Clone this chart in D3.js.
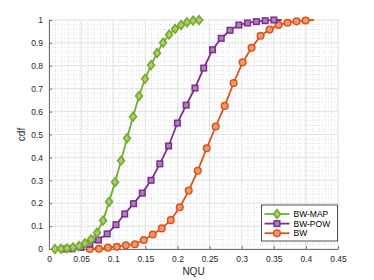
<!DOCTYPE html>
<html lang="en">
<head>
    <meta charset="UTF-8">
    <title>cdf of NQU</title>
    <style>
        body{
            margin: 0;
            background: #fff;
            font-family: "Liberation Sans", Helvetica, Arial, sans-serif;
        }
        svg{
            display: block;
        }
        .tick-label{
            font-size: 8.5px;
            fill: #262626;
        }
        .axis-title{
            font-size: 10px;
            fill: #262626;
        }
        .legend-label{
            font-size: 8.5px;
            fill: #000;
        }
    </style>
    <script src="https://d3js.org/d3.v7.min.js"></script>
</head>
<body>
    <script>
        // BW-MAP (green) - last point is where the line stops, no marker there
        var mapX = [0.0093, 0.0187, 0.0280, 0.0374, 0.0467, 0.0561, 0.0654, 0.0748, 0.0841, 0.0935,
                    0.1028, 0.1122, 0.1215, 0.1309, 0.1402, 0.1496, 0.1589, 0.1683, 0.1776, 0.1870,
                    0.1963, 0.2057, 0.2150, 0.2244, 0.2337, 0.2405];
        var mapY = [0, 0.001, 0.003, 0.007, 0.013, 0.025, 0.042, 0.071, 0.124, 0.206,
                    0.292, 0.386, 0.484, 0.578, 0.668, 0.743, 0.803, 0.856, 0.901, 0.936,
                    0.961, 0.978, 0.990, 0.997, 1.0, 1.0];
        // BW-POW (purple)
        var powX = [0.0223, 0.0360, 0.0496, 0.0633, 0.0770, 0.0906, 0.1043, 0.1179, 0.1316, 0.1453,
                    0.1589, 0.1726, 0.1863, 0.1999, 0.2136, 0.2273, 0.2409, 0.2546, 0.2682, 0.2819,
                    0.2956, 0.3092, 0.3229, 0.3366, 0.3502, 0.3622];
        var powY = [0, 0.001, 0.007, 0.021, 0.039, 0.066, 0.106, 0.153, 0.198, 0.244,
                    0.300, 0.372, 0.450, 0.550, 0.628, 0.703, 0.790, 0.870, 0.920, 0.955,
                    0.978, 0.987, 0.993, 0.997, 1.0, 1.0];
        // BW (orange)
        var bwX = [0.0637, 0.0777, 0.0917, 0.1057, 0.1197, 0.1337, 0.1476, 0.1616, 0.1756, 0.1896,
                   0.2036, 0.2176, 0.2316, 0.2456, 0.2596, 0.2736, 0.2875, 0.3015, 0.3155, 0.3295,
                   0.3435, 0.3575, 0.3715, 0.3855, 0.3995, 0.4124];
        var bwY = [0, 0.001, 0.006, 0.010, 0.016, 0.021, 0.039, 0.063, 0.090, 0.126,
                   0.182, 0.255, 0.342, 0.440, 0.535, 0.625, 0.725, 0.815, 0.879, 0.931,
                   0.958, 0.978, 0.988, 0.994, 0.998, 1.0];

        var seriesNames = ["BW-MAP", "BW-POW", "BW"];
        var xTicks = [0, 0.05, 0.1, 0.15, 0.2, 0.25, 0.3, 0.35, 0.4, 0.45];
        var xTickLabels = ["0", "0.05", "0.1", "0.15", "0.2", "0.25", "0.3", "0.35", "0.4", "0.45"];
        var yTicks = [0, 0.1, 0.2, 0.3, 0.4, 0.5, 0.6, 0.7, 0.8, 0.9, 1];
        var yTickLabels = ["0", "0.1", "0.2", "0.3", "0.4", "0.5", "0.6", "0.7", "0.8", "0.9", "1"];

        var width = 374, height = 280;
        var margin = {top: 20, right: 36, bottom: 31, left: 49};
        var innerW = width - margin.left - margin.right;
        var innerH = height - margin.top - margin.bottom;

        var x = d3.scaleLinear().domain([0, 0.45]).range([0, innerW]);
        var y = d3.scaleLinear().domain([0, 1]).range([innerH, 0]);

        var svg = d3.select("body").append("svg")
                    .attr("width", width)
                    .attr("height", height);
        var g = svg.append("g")
                   .attr("transform", "translate(" + margin.left + "," + margin.top + ")");

        // minor grid (dotted)
        var minorX = d3.range(0, 0.4501, 0.01);
        var minorY = d3.range(0, 1.0001, 0.02);
        var minor = g.append("g")
                     .attr("stroke", "#d6d6d6")
                     .attr("stroke-width", 0.8)
                     .attr("stroke-dasharray", "1,2");
        minor.selectAll(".mx").data(minorX).enter().append("line")
             .attr("x1", function(d){ return x(d); })
             .attr("x2", function(d){ return x(d); })
             .attr("y1", 0).attr("y2", innerH);
        minor.selectAll(".my").data(minorY).enter().append("line")
             .attr("y1", function(d){ return y(d); })
             .attr("y2", function(d){ return y(d); })
             .attr("x1", 0).attr("x2", innerW);

        // major grid
        var major = g.append("g")
                     .attr("stroke", "#e3e3e3")
                     .attr("stroke-width", 1);
        major.selectAll(".gx").data(xTicks).enter().append("line")
             .attr("x1", function(d){ return x(d); })
             .attr("x2", function(d){ return x(d); })
             .attr("y1", 0).attr("y2", innerH);
        major.selectAll(".gy").data(yTicks).enter().append("line")
             .attr("y1", function(d){ return y(d); })
             .attr("y2", function(d){ return y(d); })
             .attr("x1", 0).attr("x2", innerW);

        // axes (MATLAB style, ticks inward, no box)
        var xAxis = d3.axisBottom(x).tickValues(xTicks)
                      .tickFormat(function(d, i){ return xTickLabels[i]; })
                      .tickSizeInner(-3).tickSizeOuter(0).tickPadding(7);
        var yAxis = d3.axisLeft(y).tickValues(yTicks)
                      .tickFormat(function(d, i){ return yTickLabels[i]; })
                      .tickSizeInner(-3).tickSizeOuter(0).tickPadding(6);

        var gx = g.append("g").attr("transform", "translate(0," + innerH + ")").call(xAxis);
        var gy = g.append("g").call(yAxis);
        [gx, gy].forEach(function(a){
            a.select(".domain").attr("stroke", "#6e6e6e").attr("stroke-width", 1);
            a.selectAll(".tick line").attr("stroke", "#6e6e6e");
            a.selectAll(".tick text").attr("class", "tick-label").attr("font-family", null).attr("font-size", null);
        });

        // axis titles
        g.append("text")
         .attr("class", "axis-title")
         .attr("x", innerW / 2)
         .attr("y", innerH + 26)
         .attr("text-anchor", "middle")
         .text("NQU");
        g.append("text")
         .attr("class", "axis-title")
         .attr("transform", "translate(-24," + (innerH / 2) + ") rotate(-90)")
         .attr("text-anchor", "middle")
         .text("cdf");

        var series = [
            {name: seriesNames[0], xs: mapX, ys: mapY, color: "#77ac30", face: "#a8d070", marker: "diamond"},
            {name: seriesNames[1], xs: powX, ys: powY, color: "#7e2f8e", face: "#b07cc0", marker: "square"},
            {name: seriesNames[2], xs: bwX,  ys: bwY,  color: "#d95319", face: "#f09a6e", marker: "circle"}
        ];

        var line = d3.line()
                     .x(function(d){ return x(d[0]); })
                     .y(function(d){ return y(d[1]); });

        function drawMarker(sel, type, color, face){
            if(type === "diamond"){
                sel.append("path").attr("d", "M0,-4.3L3.4,0L0,4.3L-3.4,0Z")
                   .attr("fill", face).attr("stroke", color).attr("stroke-width", 1.7);
            } else if(type === "square"){
                sel.append("rect").attr("x", -2.8).attr("y", -2.8).attr("width", 5.6).attr("height", 5.6)
                   .attr("fill", face).attr("stroke", color).attr("stroke-width", 1.5);
            } else {
                sel.append("circle").attr("r", 3.3)
                   .attr("fill", face).attr("stroke", color).attr("stroke-width", 1.5);
            }
        }

        // draw back to front so green sits on top like the reference
        series.slice().reverse().forEach(function(s){
            var pts = s.xs.map(function(v, i){ return [v, s.ys[i]]; });
            g.append("path")
             .datum(pts)
             .attr("fill", "none")
             .attr("stroke", s.color)
             .attr("stroke-width", 1.8)
             .attr("d", line);
            // markers on every point except where the line ends
            var mk = g.append("g");
            pts.slice(0, pts.length - 1).forEach(function(p){
                var m = mk.append("g")
                          .attr("transform", "translate(" + x(p[0]) + "," + y(p[1]) + ")");
                drawMarker(m, s.marker, s.color, s.face);
            });
        });

        // legend
        var lg = g.append("g").attr("transform", "translate(" + (261.5 - margin.left) + "," + (205 - margin.top) + ")");
        lg.append("rect")
          .attr("width", 76).attr("height", 36)
          .attr("fill", "#fff").attr("stroke", "#262626").attr("stroke-width", 0.8);
        series.forEach(function(s, i){
            var row = lg.append("g").attr("transform", "translate(0," + (9 + i * 9.6) + ")");
            row.append("line")
               .attr("x1", 3).attr("x2", 28)
               .attr("stroke", s.color).attr("stroke-width", 1.8);
            var m = row.append("g").attr("transform", "translate(15.5,0)");
            drawMarker(m, s.marker, s.color, s.face);
            row.append("text")
               .attr("class", "legend-label")
               .attr("x", 32).attr("y", 3)
               .text(s.name);
        });
    </script>
</body>
</html>
